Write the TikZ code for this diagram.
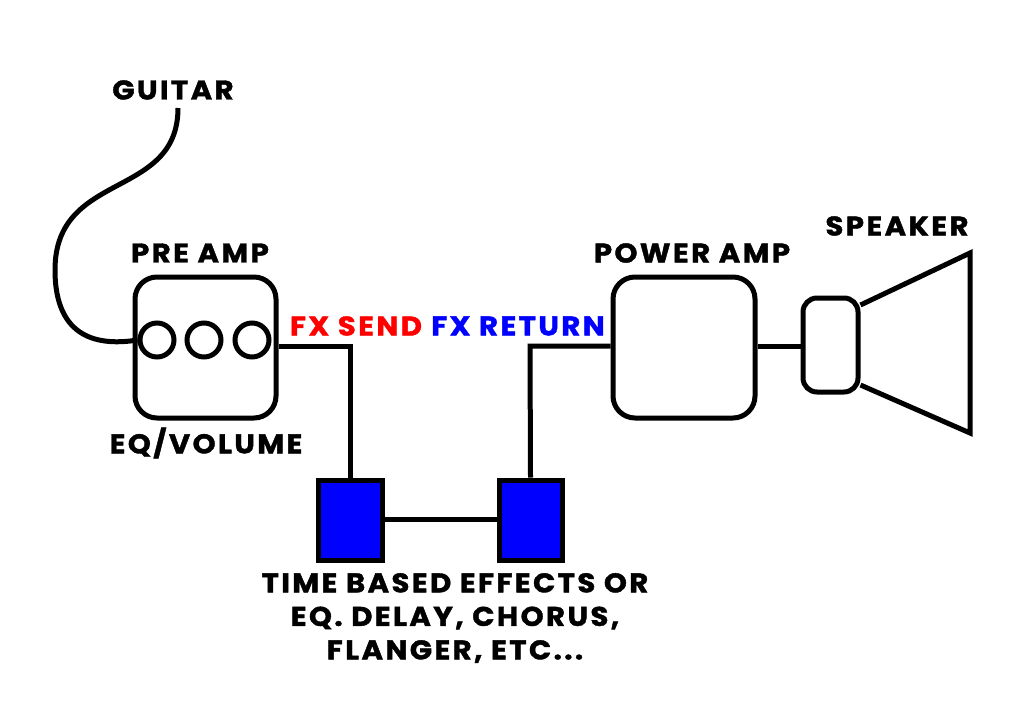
\documentclass[tikz,border=0pt]{standalone}
\usepackage{fontspec}
\setmainfont{Poppins}[BoldFont={* Bold},BoldFeatures={LetterSpace=9,FakeStretch=1.08,FakeBold=1.5}]
\begin{document}
\begin{tikzpicture}[x=1pt,y=-1pt,line width=5pt,
  lbl/.style={font=\fontsize{27}{32}\selectfont\bfseries,inner sep=0pt},
  box/.style={draw,rounded corners=22pt},
  pedal/.style={draw,fill=blue,line width=5pt}]
\useasboundingbox (0,0) rectangle (1024,717);
\node[lbl] (g) at (173,90) {GUITAR};
\node[lbl] (pa) at (200,253) {PRE AMP};
\node[lbl] (eq) at (206,443) {EQ/VOLUME};
\node[lbl,text=red] (fs) at (356,326) {FX SEND};
\node[lbl,text=blue] (fr) at (518,326) {FX RETURN};
\node[lbl] (pw) at (692,253) {POWER AMP};
\node[lbl] (sp) at (897,226) {SPEAKER};
\node[lbl,align=center,font=\fontsize{27}{33.5}\selectfont\bfseries] (t) at (455,618) {TIME BASED EFFECTS OR\\EQ. DELAY, CHORUS,\\FLANGER, ETC...};
\node[box,minimum width=141pt,minimum height=141pt] (pre) at (205.5,347.5) {};
\node[draw,circle,minimum size=34pt,inner sep=0pt] (c1) at (157,340) {};
\node[draw,circle,minimum size=34pt,inner sep=0pt] (c2) at (204,340) {};
\node[draw,circle,minimum size=34pt,inner sep=0pt] (c3) at (252,340) {};
\node[pedal,minimum width=64pt,minimum height=80pt] (p1) at (350,520) {};
\node[pedal,minimum width=63pt,minimum height=80pt] (p2) at (530.5,520) {};
\node[box,minimum width=142pt,minimum height=141pt] (pow) at (684,347.5) {};
\node[draw,rounded corners=14pt,minimum width=55pt,minimum height=94pt] (spk) at (830.5,345) {};
\draw[line join=miter] (spk.east |- 0,305) -- (970,253) -- (970,433) -- (spk.east |- 0,385);
\draw (178,108) .. controls (178,200) and (55,170) .. (55,270) .. controls (55,340) and (100,346) .. (c1.west);
\draw (pre.east |- 0,346) -- (350,346) -- (p1.north);
\draw (p1.east |- 0,519) -- (p2.west |- 0,519);
\draw (p2.north) -- (530,346) -- (pow.west |- 0,346);
\draw (pow.east |- 0,346) -- (spk.west |- 0,346);
\end{tikzpicture}
\end{document}
